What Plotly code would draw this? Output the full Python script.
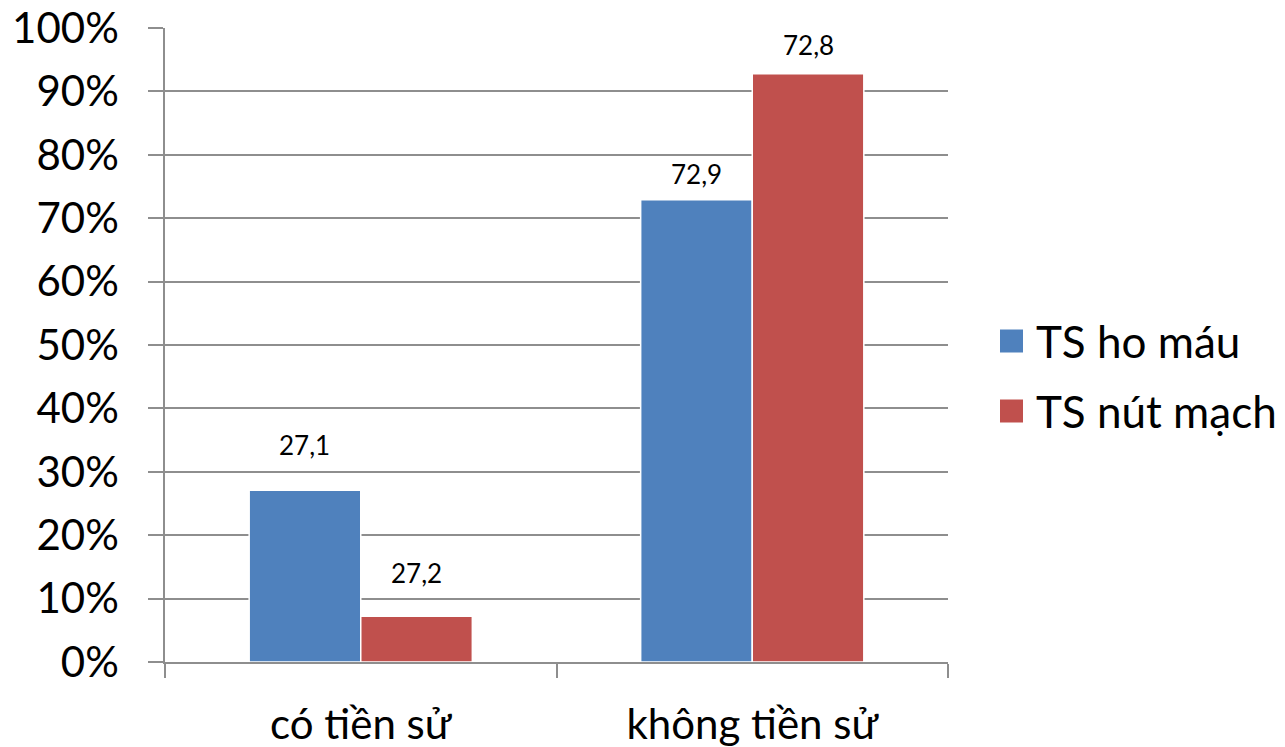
import plotly.graph_objects as go

# Chart data
categories = ["có tiền sử", "không tiền sử"]
series_names = ["TS ho máu", "TS nút mạch"]
ts_ho_mau = [0.271, 0.729]
ts_nut_mach = [0.072, 0.928]
label_ho_mau = ["27,1", "72,9"]
label_nut_mach = ["27,2", "72,8"]

BLUE = "#4F81BD"
RED = "#C0504D"
GRID = "#8E8E8E"
FONT = "Lato, 'Open Sans', sans-serif"

fig = go.Figure()
for name, vals, color in [(series_names[0], ts_ho_mau, BLUE),
                          (series_names[1], ts_nut_mach, RED)]:
    fig.add_trace(go.Bar(
        x=categories, y=vals, name=name,
        marker=dict(color=color, line=dict(color="white", width=1.5)),
        showlegend=False, hoverinfo="skip",
    ))

# value labels above the bars (label text, bar value, horizontal side, vertical lift)
label_specs = []
for i, cat in enumerate(categories):
    label_specs.append((cat, ts_ho_mau[i], label_ho_mau[i], -56))
    label_specs.append((cat, ts_nut_mach[i], label_nut_mach[i], 56))
lifts = [45, 43, 26, 29]
for (cat, val, txt, dx), lift in zip(label_specs, lifts):
    fig.add_annotation(
        x=cat, y=val, xref="x", yref="y", text=txt, showarrow=False,
        xshift=dx, yshift=lift, font=dict(size=26, color="black", family=FONT),
    )

# legend drawn as swatches + text
legend_rows = [(series_names[0], BLUE, 341), (series_names[1], RED, 411)]
for name, color, ypx in legend_rows:
    fig.add_shape(
        type="rect", xref="paper", yref="paper",
        x0=(1000 - 165) / 783, x1=(1023 - 165) / 783,
        y0=(662 - (ypx + 11.5)) / 634, y1=(662 - (ypx - 11.5)) / 634,
        fillcolor=color, line=dict(width=0),
    )
    fig.add_annotation(
        x=(1034 - 165) / 783, y=(662 - ypx) / 634, xref="paper", yref="paper",
        text=name, showarrow=False, xanchor="left", yanchor="middle",
        font=dict(size=44, color="black", family=FONT),
    )

fig.update_layout(
    width=1285, height=747,
    margin=dict(l=165, r=337, t=28, b=85, autoexpand=False),
    paper_bgcolor="white", plot_bgcolor="white",
    barmode="group", bargap=0.43, bargroupgap=0.0,
    font=dict(family=FONT, color="black"),
)
fig.update_yaxes(
    range=[0, 1], tickvals=[i / 10 for i in range(11)], tickformat=".0%",
    showgrid=True, gridcolor=GRID, gridwidth=1.5,
    showline=True, linecolor=GRID, linewidth=1.5,
    ticks="outside", ticklen=15, tickcolor=GRID, tickwidth=1.5,
    tickfont=dict(size=42, family=FONT, color="black"),
    ticklabelstandoff=21, zeroline=False, automargin=False,
)
fig.update_xaxes(
    showline=True, linecolor=GRID, linewidth=1.5,
    ticks="outside", tickson="boundaries", ticklen=14, tickcolor=GRID, tickwidth=1.5,
    tickfont=dict(size=42, family=FONT, color="black"),
    ticklabelstandoff=25, showgrid=False, automargin=False,
)

fig.write_html("out.html")
